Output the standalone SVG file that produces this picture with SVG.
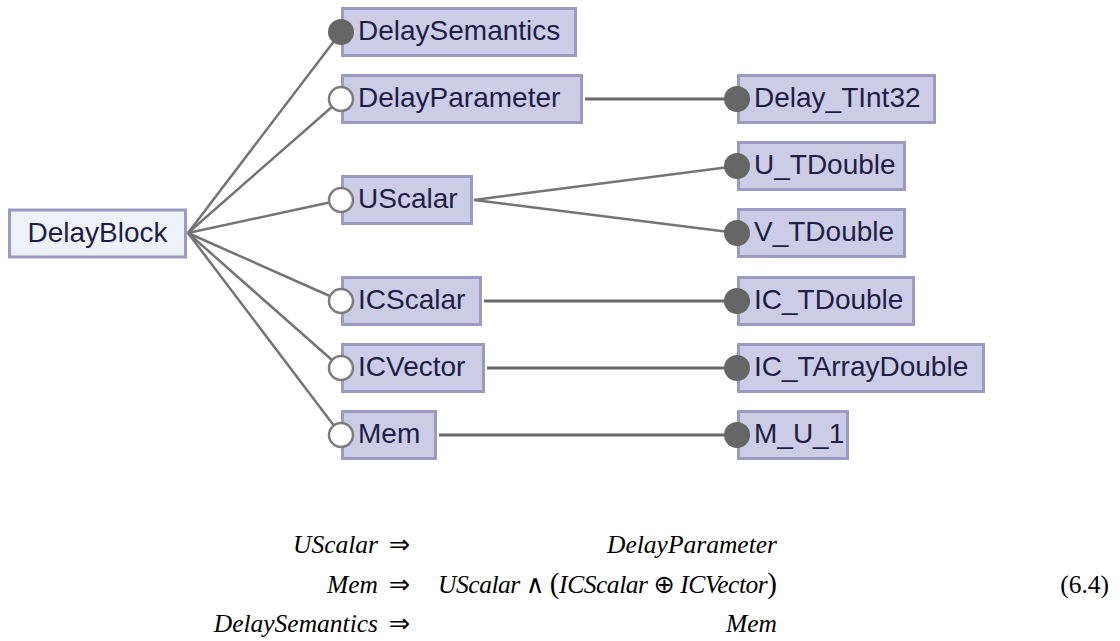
<svg xmlns="http://www.w3.org/2000/svg" width="1120" height="641" viewBox="0 0 1120 641">
<style>
.box{fill:#ccccE6;stroke:#9a9ac2;stroke-width:3}
.root{fill:#eff1f8;stroke:#9a9ac2;stroke-width:3}
.lbl{font-family:"Liberation Sans",Arial,sans-serif;font-size:28px;fill:#1e1e46}
.dot{fill:#666666}
.open{fill:#ffffff;stroke:#7c7c7c;stroke-width:2.5}
.fan{stroke:#747474;stroke-width:2.5;fill:none}
.hl{stroke:#686868;stroke-width:3;fill:none}
.eq{font-family:"Liberation Serif","Times New Roman",serif;font-size:25.5px;font-style:italic;fill:#000}
.op{font-family:"DejaVu Sans",sans-serif;font-style:normal}
.par{font-family:"Liberation Serif","Times New Roman",serif;font-style:normal;font-size:29px}
.num{font-family:"Liberation Serif","Times New Roman",serif;font-size:25.5px;fill:#000}
</style>
<g id="connectors">
<line class="fan" x1="188" y1="233" x2="341" y2="32"/>
<line class="fan" x1="188" y1="233" x2="341" y2="99"/>
<line class="fan" x1="188" y1="233" x2="341" y2="200"/>
<line class="fan" x1="188" y1="233" x2="341" y2="301"/>
<line class="fan" x1="188" y1="233" x2="341" y2="368"/>
<line class="fan" x1="188" y1="233" x2="341" y2="435"/>
<line class="hl" x1="585" y1="99" x2="737" y2="99"/>
<line class="fan" x1="474" y1="200" x2="737" y2="166"/>
<line class="fan" x1="474" y1="200" x2="737" y2="233"/>
<line class="hl" x1="484" y1="301" x2="737" y2="301"/>
<line class="hl" x1="487" y1="368" x2="737" y2="368"/>
<line class="hl" x1="439" y1="435" x2="737" y2="435"/>
</g>
<g id="DelayBlock">
<rect class="root" x="9.5" y="210" width="176" height="47"/>
<text class="lbl" x="97.5" y="241.5" text-anchor="middle">DelayBlock</text>
</g>
<g id="DelaySemantics">
<rect class="box" x="342.5" y="8.5" width="233" height="47"/>
<circle class="dot" cx="341" cy="32" r="13"/>
<text class="lbl" x="358" y="40">DelaySemantics</text>
</g>
<g id="DelayParameter">
<rect class="box" x="342.5" y="75.5" width="239" height="47"/>
<circle class="open" cx="341" cy="99" r="12"/>
<text class="lbl" x="358" y="107">DelayParameter</text>
</g>
<g id="UScalar">
<rect class="box" x="342.5" y="176.5" width="129" height="47"/>
<circle class="open" cx="341" cy="200" r="12"/>
<text class="lbl" x="358" y="208">UScalar</text>
</g>
<g id="ICScalar">
<rect class="box" x="342.5" y="277.5" width="138" height="47"/>
<circle class="open" cx="341" cy="301" r="12"/>
<text class="lbl" x="358" y="309">ICScalar</text>
</g>
<g id="ICVector">
<rect class="box" x="342.5" y="344.5" width="141" height="47"/>
<circle class="open" cx="341" cy="368" r="12"/>
<text class="lbl" x="358" y="376">ICVector</text>
</g>
<g id="Mem">
<rect class="box" x="342.5" y="411.5" width="93" height="47"/>
<circle class="open" cx="341" cy="435" r="12"/>
<text class="lbl" x="358" y="443">Mem</text>
</g>
<g id="Delay_TInt32">
<rect class="box" x="738.5" y="75.5" width="196" height="47"/>
<circle class="dot" cx="737" cy="99" r="13"/>
<text class="lbl" x="754" y="107">Delay_TInt32</text>
</g>
<g id="U_TDouble">
<rect class="box" x="738.5" y="142.5" width="166" height="47"/>
<circle class="dot" cx="737" cy="166" r="13"/>
<text class="lbl" x="754" y="174">U_TDouble</text>
</g>
<g id="V_TDouble">
<rect class="box" x="738.5" y="209.5" width="166" height="47"/>
<circle class="dot" cx="737" cy="233" r="13"/>
<text class="lbl" x="754" y="241">V_TDouble</text>
</g>
<g id="IC_TDouble">
<rect class="box" x="738.5" y="277.5" width="175" height="47"/>
<circle class="dot" cx="737" cy="301" r="13"/>
<text class="lbl" x="754" y="309">IC_TDouble</text>
</g>
<g id="IC_TArrayDouble">
<rect class="box" x="738.5" y="344.5" width="245" height="47"/>
<circle class="dot" cx="737" cy="368" r="13"/>
<text class="lbl" x="754" y="376">IC_TArrayDouble</text>
</g>
<g id="M_U_1">
<rect class="box" x="738.5" y="411.5" width="109" height="47"/>
<circle class="dot" cx="737" cy="435" r="13"/>
<text class="lbl" x="754" y="443">M_U_1</text>
</g>
<g id="equations">
<text class="eq" x="378" y="553" text-anchor="end">UScalar</text>
<text class="eq op" x="410" y="553" text-anchor="end">⇒</text>
<text class="eq" x="777" y="553" text-anchor="end">DelayParameter</text>
<text class="eq" x="378" y="593" text-anchor="end">Mem</text>
<text class="eq op" x="410" y="593" text-anchor="end">⇒</text>
<text class="eq" x="438" y="593" textLength="339" lengthAdjust="spacing">UScalar <tspan class="op">∧</tspan> <tspan class="par">(</tspan>ICScalar <tspan class="op">⊕</tspan> ICVector<tspan class="par">)</tspan></text>
<text class="num" x="1109" y="593" text-anchor="end">(6.4)</text>
<text class="eq" x="378" y="632" text-anchor="end">DelaySemantics</text>
<text class="eq op" x="410" y="632" text-anchor="end">⇒</text>
<text class="eq" x="777" y="632" text-anchor="end">Mem</text>
</g>
</svg>
